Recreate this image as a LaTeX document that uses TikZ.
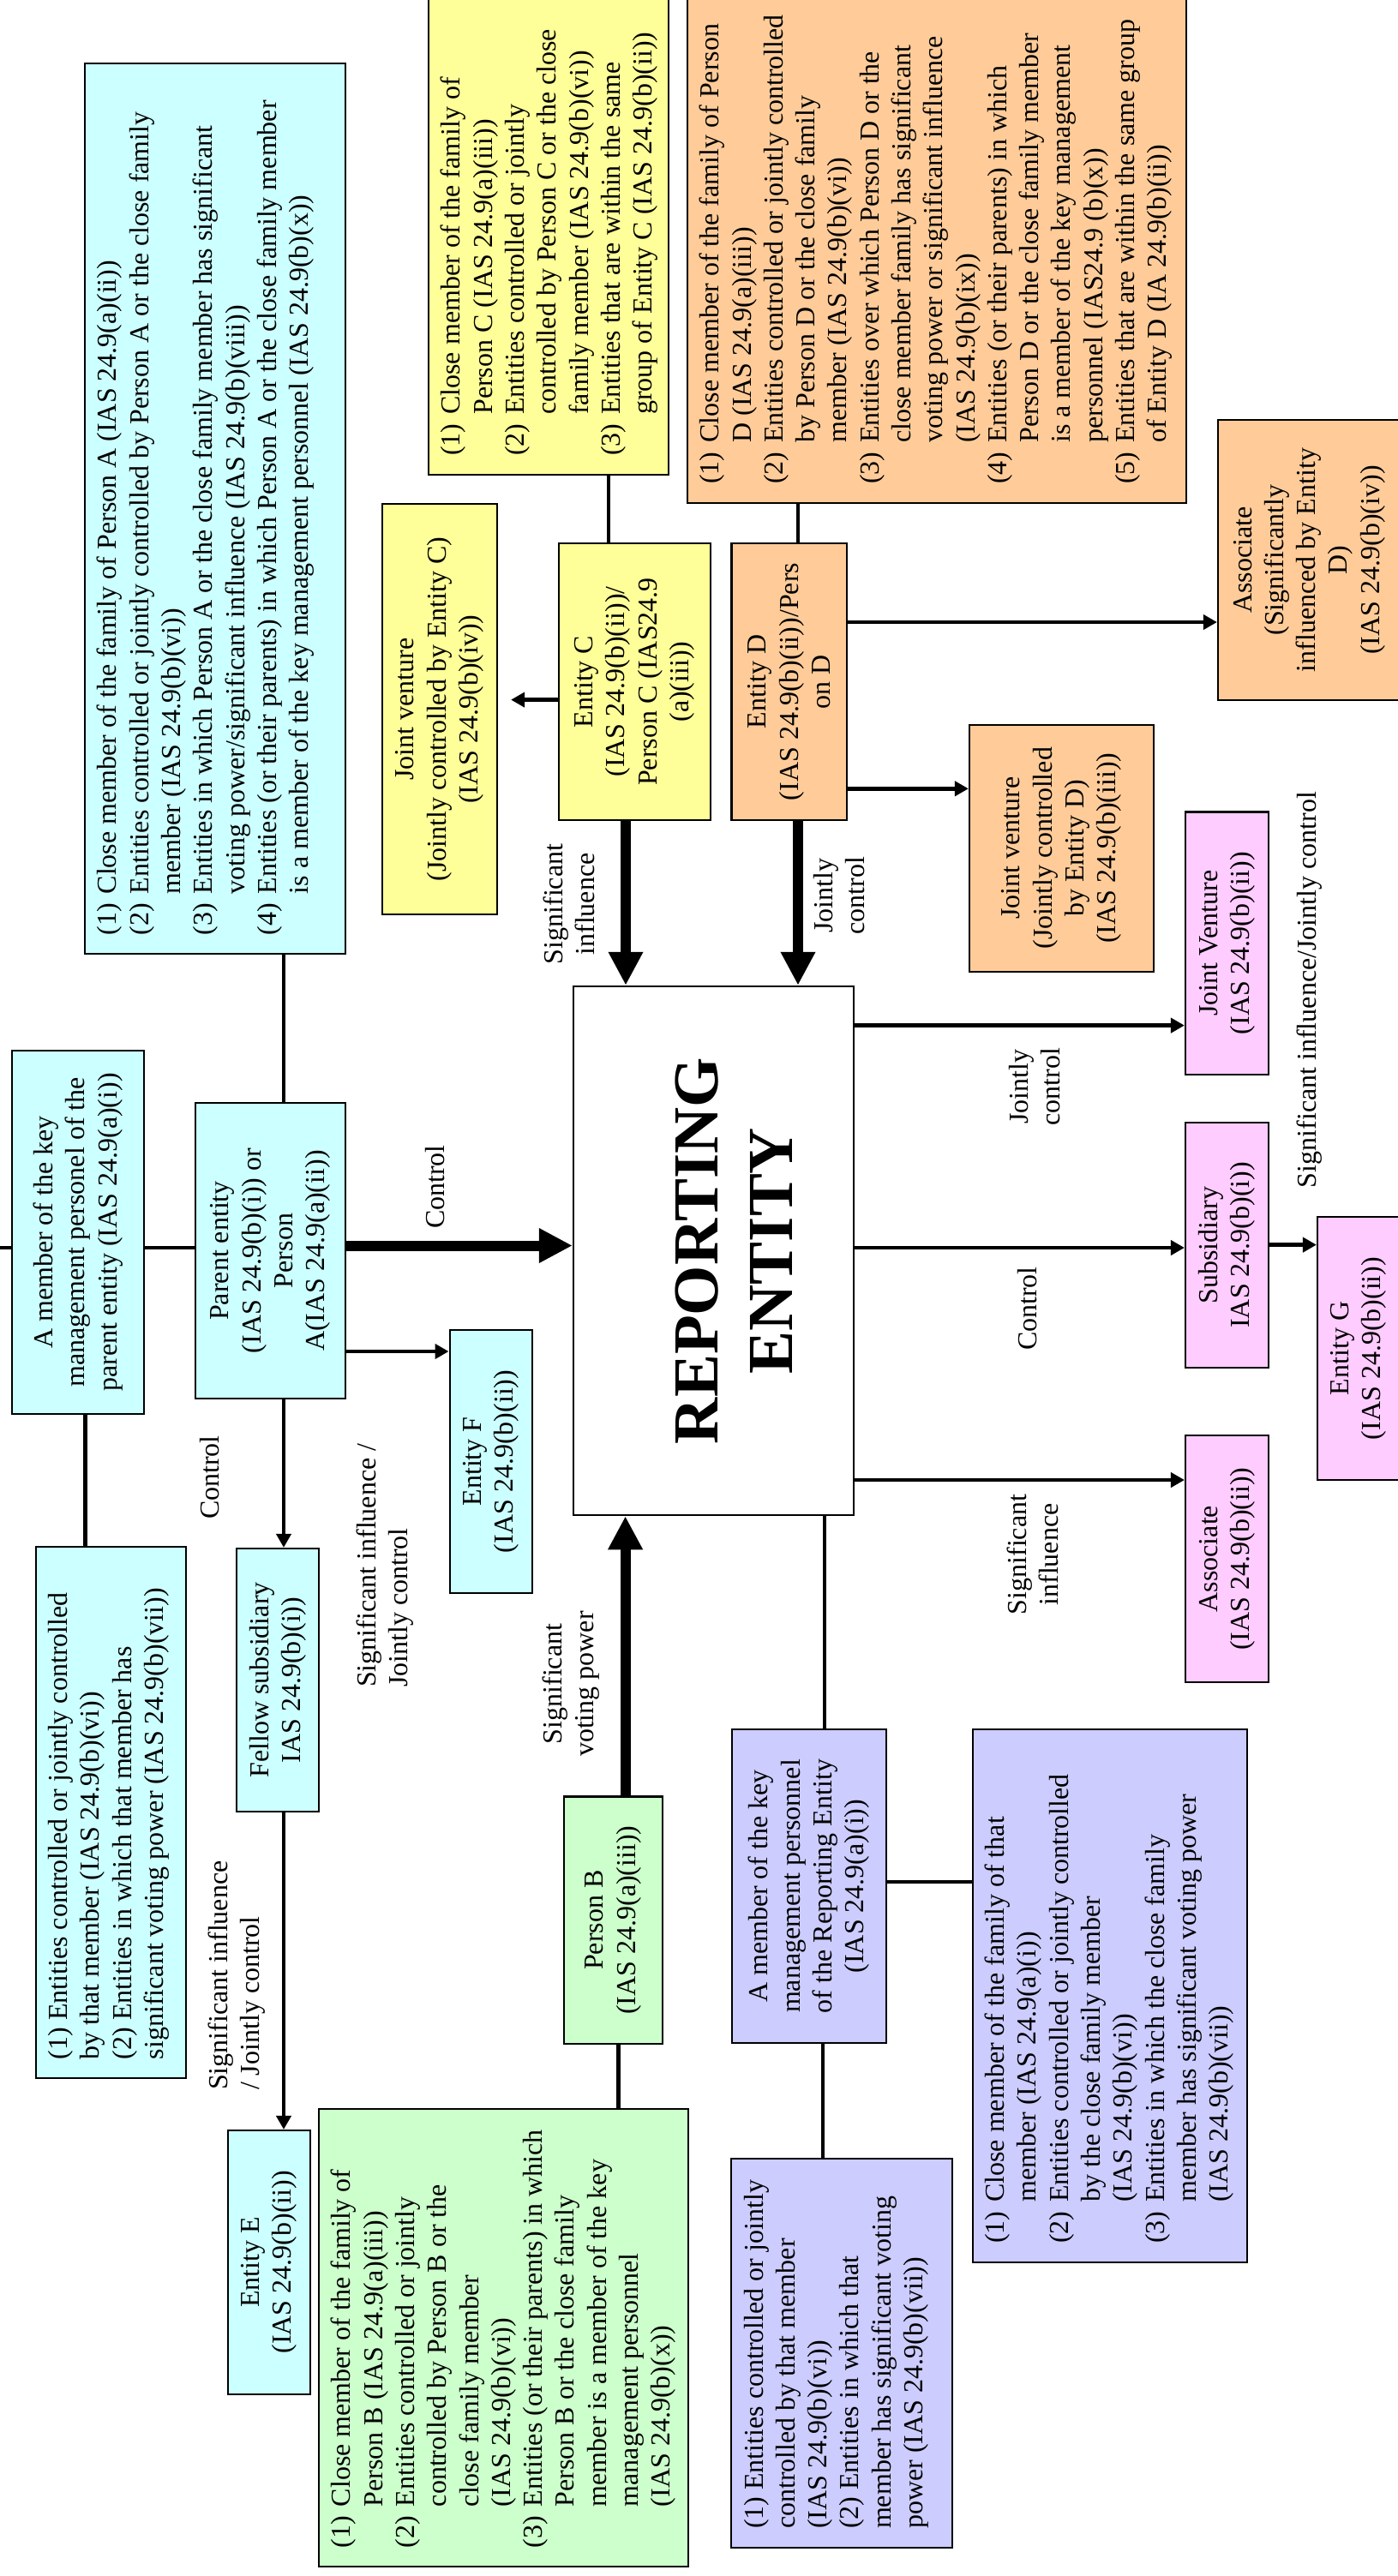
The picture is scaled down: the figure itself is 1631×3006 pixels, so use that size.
\documentclass[tikz,border=0pt]{standalone}
\usepackage{fontspec}
\setmainfont{Liberation Serif}
\usetikzlibrary{arrows.meta}

\definecolor{cyanbox}{HTML}{CCFFFF}
\definecolor{yellowbox}{HTML}{FFFF99}
\definecolor{orangebox}{HTML}{FFCC99}
\definecolor{greenbox}{HTML}{CCFFCC}
\definecolor{purplebox}{HTML}{CCCCFF}
\definecolor{pinkbox}{HTML}{FFCCFF}

\newcommand{\bodyfont}{\fontsize{9.1pt}{10.6pt}\selectfont}
% list text: length along the text, depth across, content
\newcommand{\lbox}[3]{\parbox[c][#2][t]{#1}{\vspace*{0.145cm}%
  \leftskip=0.22cm\rightskip=0pt plus 1fil minus 3cm\parindent=0pt #3}}
\newcommand{\itm}[1]{\par\hangindent=1.5em\hangafter=1\noindent\makebox[1.5em][l]{#1}\ignorespaces}

\begin{document}
\begin{tikzpicture}
[x=0.01cm, y=-0.01cm, draw=black, line width=0.6pt,
box/.style={rectangle, draw=black, line width=0.6pt, rotate=90, inner sep=0pt, font=\bodyfont},
cbox/.style={box, align=center},
lbl/.style={rotate=90, inner sep=0pt, align=center, font=\bodyfont},
conn/.style={draw=black, line width=1.4pt},
arr/.style={conn, -{Triangle[length=0.16cm,width=0.17cm]}},
bigarr/.style={draw=black, line width=0.12cm, -{Triangle[length=0.39cm,width=0.38cm]}}
]
\useasboundingbox (0,0) rectangle (1631,3006);

% rotated boxes: west = bottom, east = top, north = left, south = right
\node[box, fill=cyanbox] (famA) at (251,593.5) {\lbox{10.39cm}{3.04cm}{%
\itm{(1)}Close member of the family of Person A (IAS 24.9(a)(ii))
\itm{(2)}Entities controlled or jointly controlled by Person A or the close family\\member (IAS 24.9(b)(vi))
\itm{(3)}Entities in which Person A or the close family member has significant\\voting power/significant influence (IAS 24.9(b)(viii))
\itm{(4)}Entities (or their parents) in which Person A or the close family member\\is a member of the key management personnel (IAS 24.9(b)(x))}};

\node[box, fill=yellowbox] (famC) at (640,261.8) {\lbox{5.836cm}{2.80cm}{%
\itm{(1)}Close member of the family of\\Person C (IAS 24.9(a)(iii))
\itm{(2)}Entities controlled or jointly\\controlled by Person C or the close\\family member (IAS 24.9(b)(vi))
\itm{(3)}Entities that are within the same\\group of Entity C (IAS 24.9(b)(ii))}};

\node[box, fill=orangebox] (famD) at (1093,278.25) {\lbox{6.165cm}{5.82cm}{%
\itm{(1)}Close member of the family of Person\\D (IAS 24.9(a)(iii))
\itm{(2)}Entities controlled or jointly controlled\\by Person D or the close family\\member (IAS 24.9(b)(vi))
\itm{(3)}Entities over which Person D or the\\close member family has significant\\voting power or significant influence\\(IAS 24.9(b)(ix))
\itm{(4)}Entities (or their parents) in which\\Person D or the close family member\\is a member of the key management\\personnel (IAS24.9 (b)(x))
\itm{(5)}Entities that are within the same group\\of Entity D (IA 24.9(b)(ii))}};

\node[cbox, fill=yellowbox, minimum width=4.79cm, minimum height=1.34cm] (jvC) at (513,827.5) {Joint venture\\(Jointly controlled by Entity C)\\(IAS 24.9(b)(iv))};
\node[cbox, fill=yellowbox, minimum width=3.23cm, minimum height=1.765cm] (EntC) at (740.3,795.5) {Entity C\\(IAS 24.9(b)(ii))/\\Person C (IAS24.9\\(a)(iii))};
\node[cbox, fill=orangebox, minimum width=3.23cm, minimum height=1.345cm] (EntD) at (920.8,795.5) {Entity D\\(IAS 24.9(b)(ii))/Pers\\on D};
\node[cbox, fill=orangebox, minimum width=3.26cm, minimum height=2.13cm] (AssocD) at (1527.5,653.5) {Associate\\(Significantly\\influenced by Entity\\D)\\(IAS 24.9(b)(iv))};
\node[cbox, fill=orangebox, minimum width=2.88cm, minimum height=2.15cm] (jvD) at (1238.5,989.7) {Joint venture\\(Jointly controlled\\by Entity D)\\(IAS 24.9(b)(iii))};

\node[cbox, fill=pinkbox, minimum width=3.06cm, minimum height=0.97cm] (JVp) at (1431.5,1100.6) {Joint Venture\\(IAS 24.9(b)(ii))};
\node[cbox, fill=pinkbox, minimum width=2.86cm, minimum height=0.97cm] (Subs) at (1431.5,1452.8) {Subsidiary\\IAS 24.9(b)(i))};
\node[cbox, fill=pinkbox, minimum width=3.07cm, minimum height=0.96cm] (EntG) at (1585,1573.5) {Entity G\\(IAS 24.9(b)(ii))};
\node[cbox, fill=pinkbox, minimum width=2.88cm, minimum height=0.97cm] (AssocP) at (1431.5,1819) {Associate\\(IAS 24.9(b)(ii))};

\node[box, fill=white, minimum width=6.17cm, minimum height=3.27cm] (REPORT) at (832.5,1459.5) {};
\node[rotate=90, inner sep=0pt, align=center, font=\fontsize{21.3pt}{24.8pt}\selectfont\bfseries] (REPlbl) at (856.5,1459.5) {REPORTING\\ENTITY};

\node[cbox, fill=cyanbox, minimum width=4.24cm, minimum height=1.54cm] (kmpA) at (91,1438) {A member of the key\\management personel of the\\parent entity (IAS 24.9(a)(i))};
\node[cbox, fill=cyanbox, minimum width=3.45cm, minimum height=1.75cm] (parent) at (315.5,1459.5) {Parent entity\\(IAS 24.9(b)(i)) or\\Person\\A(IAS 24.9(a)(ii))};
\node[cbox, fill=cyanbox, minimum width=3.07cm, minimum height=0.964cm] (EntF) at (572.8,1705.4) {Entity F\\(IAS 24.9(b)(ii))};
\node[cbox, fill=cyanbox, minimum width=3.07cm, minimum height=0.96cm] (fellow) at (324,1960.5) {Fellow subsidiary\\IAS 24.9(b)(i))};
\node[box, fill=cyanbox] (kmpAlist) at (129.5,2115) {\lbox{6.20cm}{1.75cm}{%
(1) Entities controlled or jointly controlled\\by that member (IAS 24.9(b)(vi))\\(2) Entities in which that member has\\significant voting power (IAS 24.9(b)(vii))}};
\node[cbox, fill=cyanbox, minimum width=3.075cm, minimum height=0.96cm] (EntE) at (314,2639.8) {Entity E\\(IAS 24.9(b)(ii))};

\node[cbox, fill=greenbox, minimum width=2.88cm, minimum height=1.15cm] (personB) at (715.5,2240.6) {Person B\\(IAS 24.9(a)(iii))};
\node[box, fill=greenbox] (famB) at (587.25,2728) {\lbox{5.34cm}{4.305cm}{%
\itm{(1)}Close member of the family of\\Person B (IAS 24.9(a)(iii))
\itm{(2)}Entities controlled or jointly\\controlled by Person B or the\\close family member\\(IAS 24.9(b)(vi))
\itm{(3)}Entities (or their parents) in which\\Person B or the close family\\member is a member of the key\\management personnel\\(IAS 24.9(b)(x))}};

\node[cbox, fill=purplebox, minimum width=3.66cm, minimum height=1.80cm] (kmpRE) at (944,2201) {A member of the key\\management personnel\\of the Reporting Entity\\(IAS 24.9(a)(i))};
\node[box, fill=purplebox] (kmpREl) at (982,2746.1) {\lbox{4.534cm}{2.57cm}{%
(1) Entities controlled or jointly\\controlled by that member\\(IAS 24.9(b)(vi))\\(2) Entities in which that\\member has significant voting\\power (IAS 24.9(b)(vii))}};
\node[box, fill=purplebox] (famK) at (1294.85,2328.8) {\lbox{6.216cm}{3.203cm}{%
\itm{(1)}Close member of the family of that\\member (IAS 24.9(a)(i))
\itm{(2)}Entities controlled or jointly controlled\\by the close family member\\(IAS 24.9(b)(vi))
\itm{(3)}Entities in which the close family\\member has significant voting power\\(IAS 24.9(b)(vii))}};

\node[lbl] (lSiC) at (664,1055) {Significant\\influence};
\node[lbl] (lJcD) at (979,1045) {Jointly\\control};
\node[lbl] (lCtrlP) at (508,1385) {Control};
\node[lbl] (lCtrlF) at (245,1724) {Control};
\node[lbl, anchor=west, align=left] (lSiF) at (449,1970) {Significant influence /\\Jointly control};
\node[lbl, anchor=west, align=left] (lSiE) at (276,2440) {Significant influence\\/ Jointly control};
\node[lbl] (lSvp) at (666,1965) {Significant\\voting power};
\node[lbl] (lJcJV) at (1207,1268) {Jointly\\control};
\node[lbl] (lCtrlS) at (1199,1527) {Control};
\node[lbl] (lSiA) at (1205,1814) {Significant\\influence};
\node[lbl] (lSiG) at (1528,1155) {Significant influence/Jointly control};

\draw[conn] (famC.west -| 710,0) -- (EntC.east -| 710,0);
\draw[conn] (famD.west -| 931,0) -- (EntD.east -| 931,0);
\draw[arr, shorten >=0.15cm] (EntC.north |- 0,816.6) -- (jvC.south |- 0,816.6);
\draw[arr] (EntD.south |- 0,726) -- (AssocD.north |- 0,726);
\draw[arr] (EntD.south |- 0,920.3) -- (jvD.north |- 0,920.3);
\draw[bigarr] (EntC.west -| 730,0) -- (REPORT.east -| 730,0);
\draw[bigarr] (EntD.west -| 931,0) -- (REPORT.east -| 931,0);

\draw[conn] (famA.west -| 331,0) -- (parent.east -| 331,0);
\coordinate (leftend) at (0,1456);
\draw[conn] (leftend) -- (kmpA.north |- leftend);
\draw[conn] (kmpA.south |- leftend) -- (parent.north |- leftend);
\draw[bigarr] (parent.south |- 0,1453.5) -- (REPORT.north |- 0,1453.5);
\draw[arr] (parent.south |- 0,1577) -- (EntF.north |- 0,1577);
\draw[arr] (parent.west -| 331,0) -- (fellow.east -| 331,0);
\draw[conn] (kmpA.west -| 99.6,0) -- (kmpAlist.east -| 99.6,0);
\draw[arr] (fellow.west -| 331,0) -- (EntE.east -| 331,0);

\draw[bigarr] (personB.east -| 729.6,0) -- (REPORT.west -| 729.6,0);
\draw[conn] (personB.west -| 721.6,0) -- (famB.east -| 721.6,0);
\draw[conn] (REPORT.west -| 962,0) -- (kmpRE.east -| 962,0);
\draw[conn] (kmpRE.west -| 960,0) -- (kmpREl.east -| 960,0);
\draw[conn] (kmpRE.south |- 0,2196) -- (famK.north |- 0,2196);

\draw[arr] (REPORT.south |- 0,1196.6) -- (JVp.north |- 0,1196.6);
\draw[arr] (REPORT.south |- 0,1456) -- (Subs.north |- 0,1456);
\draw[arr] (REPORT.south |- 0,1727) -- (AssocP.north |- 0,1727);
\draw[arr] (Subs.south |- 0,1452.6) -- (EntG.north |- 0,1452.6);
\end{tikzpicture}
\end{document}
